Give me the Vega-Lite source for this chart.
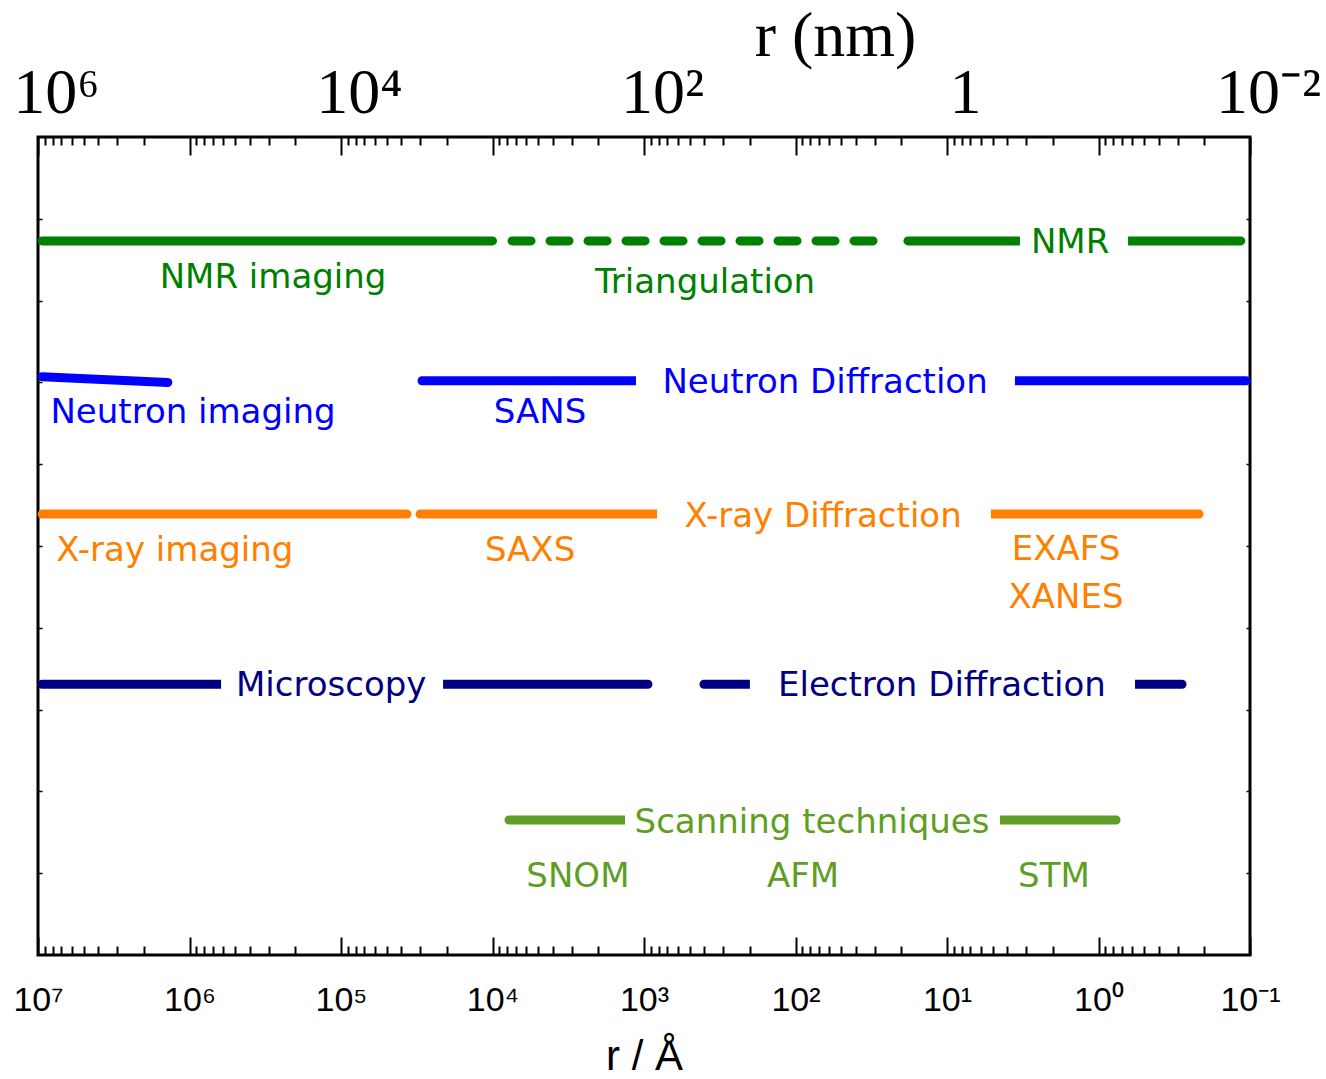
{
  "$schema": "https://vega.github.io/schema/vega-lite/v6.json",
  "autosize": {"type": "none"},
  "padding": {"left": 38, "top": 137, "right": 76, "bottom": 124},
  "width": 1212,
  "height": 818,
  "background": "white",
  "config": {"view": {"stroke": "black", "strokeWidth": 3}},
  "datasets": {
    "segs": [
      {"x1": 9400000, "x2": 10000, "y1": 8.73, "y2": 8.73, "color": "#008000"},
      {"x1": 18.1, "x2": 0.115, "y1": 8.73, "y2": 8.73, "color": "#008000"},
      {"x1": 9400000, "x2": 1390000, "y1": 7.07, "y2": 7.0, "color": "#0000FF"},
      {"x1": 29200, "x2": 0.106, "y1": 7.02, "y2": 7.02, "color": "#0000FF"},
      {"x1": 9400000, "x2": 36650, "y1": 5.39, "y2": 5.39, "color": "#FF8000"},
      {"x1": 30100, "x2": 0.217, "y1": 5.39, "y2": 5.39, "color": "#FF8000"},
      {"x1": 9400000, "x2": 942, "y1": 3.31, "y2": 3.31, "color": "#000080"},
      {"x1": 402, "x2": 0.281, "y1": 3.31, "y2": 3.31, "color": "#000080"},
      {"x1": 7780, "x2": 0.766, "y1": 1.65, "y2": 1.65, "color": "#5E9E24"}
    ],
    "dashed": [
      {"x1": 7430, "x2": 24.2, "y1": 8.73, "y2": 8.73, "color": "#008000"}
    ],
    "gaps": [
      {"x1": 3.30, "x2": 0.638, "y": 8.73},
      {"x1": 1130, "x2": 3.56, "y": 7.02},
      {"x1": 820, "x2": 5.13, "y": 5.39},
      {"x1": 619000, "x2": 21200, "y": 3.31},
      {"x1": 200, "x2": 0.574, "y": 3.31},
      {"x1": 1334, "x2": 4.47, "y": 1.65}
    ],
    "labels": [
      {"label": "NMR imaging", "x": 281000, "y": 8.28, "color": "#008000"},
      {"label": "Triangulation", "x": 395, "y": 8.22, "color": "#008000"},
      {"label": "NMR", "x": 1.54, "y": 8.70, "color": "#008000"},
      {"label": "Neutron imaging", "x": 948000, "y": 6.63, "color": "#0000FF"},
      {"label": "SANS", "x": 4855, "y": 6.63, "color": "#0000FF"},
      {"label": "Neutron Diffraction", "x": 63.8, "y": 6.99, "color": "#0000FF"},
      {"label": "X-ray imaging", "x": 1250000, "y": 4.94, "color": "#FF8000"},
      {"label": "SAXS", "x": 5650, "y": 4.94, "color": "#FF8000"},
      {"label": "X-ray Diffraction", "x": 65.8, "y": 5.35, "color": "#FF8000"},
      {"label": "EXAFS", "x": 1.64, "y": 4.95, "color": "#FF8000"},
      {"label": "XANES", "x": 1.64, "y": 4.36, "color": "#FF8000"},
      {"label": "Microscopy", "x": 116000, "y": 3.29, "color": "#000080"},
      {"label": "Electron Diffraction", "x": 10.8, "y": 3.29, "color": "#000080"},
      {"label": "Scanning techniques", "x": 77.8, "y": 1.61, "color": "#5E9E24"},
      {"label": "SNOM", "x": 2730, "y": 0.95, "color": "#5E9E24"},
      {"label": "AFM", "x": 89.2, "y": 0.95, "color": "#5E9E24"},
      {"label": "STM", "x": 1.97, "y": 0.95, "color": "#5E9E24"}
    ]
  },
  "resolve": {"axis": {"x": "independent", "y": "independent"}},
  "layer": [
    {
      "data": {"name": "segs"},
      "mark": {"type": "rule", "strokeWidth": 9, "strokeCap": "round"},
      "encoding": {
        "x": {"field": "x1", "type": "quantitative",
          "scale": {"type": "log", "domain": [0.1, 10000000], "reverse": true, "nice": false, "zero": false},
          "axis": {"orient": "bottom", "values": [10000000, 1000000, 100000, 10000, 1000, 100, 10, 1, 0.1],
            "tickSize": -18, "tickWidth": 2, "tickColor": "black", "domain": false, "grid": false,
            "labelFont": "Liberation Sans", "labelFontSize": 34, "labelColor": "black", "labelPadding": 73,
            "labelBaseline": "alphabetic", "labelFlush": false, "labelOverlap": false, "labelBound": false,
            "labelExpr": "datum.value >= 5e6 ? '10⁷' : datum.value >= 5e5 ? '10⁶' : datum.value >= 5e4 ? '10⁵' : datum.value >= 5e3 ? '10⁴' : datum.value >= 500 ? '10³' : datum.value >= 50 ? '10²' : datum.value >= 5 ? '10¹' : datum.value >= 0.5 ? '10⁰' : '10⁻¹'",
            "title": "r / Å", "titleFont": "Liberation Sans", "titleFontSize": 42, "titleFontWeight": "normal",
            "titleColor": "black", "titleBaseline": "alphabetic", "titleY": 114, "titleX": 606, "titleAlign": "center", "titleAnchor": null}},
        "x2": {"field": "x2"},
        "y": {"field": "y1", "type": "quantitative", "scale": {"domain": [0, 10], "nice": false, "zero": true},
          "axis": {"orient": "left", "values": [1, 2, 3, 4, 5, 6, 7, 8, 9], "tickSize": -4, "tickWidth": 1.5,
            "tickColor": "black", "labels": false, "domain": false, "grid": false, "title": null}},
        "y2": {"field": "y2"},
        "color": {"field": "color", "type": "nominal", "scale": null}
      }
    },
    {
      "data": {"name": "dashed"},
      "mark": {"type": "rule", "strokeWidth": 9, "strokeCap": "round", "strokeDash": [19, 19]},
      "encoding": {
        "x": {"field": "x1", "type": "quantitative",
          "axis": {"orient": "bottom", "values": [9000000,8000000,7000000,6000000,5000000,4000000,3000000,2000000,900000,800000,700000,600000,500000,400000,300000,200000,90000,80000,70000,60000,50000,40000,30000,20000,9000,8000,7000,6000,5000,4000,3000,2000,900,800,700,600,500,400,300,200,90,80,70,60,50,40,30,20,9,8,7,6,5,4,3,2,0.9,0.8,0.7,0.6,0.5,0.4,0.3,0.2],
            "tickSize": -9, "tickWidth": 2, "tickColor": "black", "domain": false, "grid": false, "labels": false, "title": null}},
        "x2": {"field": "x2"},
        "y": {"field": "y1", "type": "quantitative",
          "axis": {"orient": "right", "values": [1, 2, 3, 4, 5, 6, 7, 8, 9], "tickSize": -4, "tickWidth": 1.5,
            "tickColor": "black", "labels": false, "domain": false, "grid": false, "title": null}},
        "y2": {"field": "y2"},
        "color": {"field": "color", "type": "nominal", "scale": null}
      }
    },
    {
      "data": {"name": "gaps"},
      "transform": [{"calculate": "datum.y - 0.1", "as": "ylo"}, {"calculate": "datum.y + 0.1", "as": "yhi"}],
      "mark": {"type": "rect", "fill": "white"},
      "encoding": {
        "x": {"field": "x1", "type": "quantitative",
          "axis": {"orient": "top", "values": [10000000, 1000000, 100000, 10000, 1000, 100, 10, 1, 0.1],
            "tickSize": -18, "tickWidth": 2, "tickColor": "black", "domain": false, "grid": false,
            "labelFont": "Liberation Serif", "labelFontSize": 64, "labelColor": "black", "labelPadding": 43,
            "labelBaseline": "alphabetic", "labelOffset": 18, "labelFlush": false, "labelOverlap": false, "labelBound": false,
            "labelExpr": "datum.value >= 5e6 ? '10⁶' : (datum.value >= 5e4 && datum.value < 5e5) ? '10⁴' : (datum.value >= 500 && datum.value < 5000) ? '10²' : (datum.value >= 5 && datum.value < 50) ? '1' : datum.value < 0.5 ? '10⁻²' : ''",
            "title": "r (nm)", "titleFont": "Liberation Serif", "titleFontSize": 64, "titleFontWeight": "normal",
            "titleColor": "black", "titleBaseline": "alphabetic", "titleY": -82, "titleX": 797, "titleAlign": "center", "titleAnchor": null}},
        "x2": {"field": "x2"},
        "y": {"field": "ylo", "type": "quantitative", "axis": null},
        "y2": {"field": "yhi"}
      }
    },
    {
      "data": {"name": "labels"},
      "mark": {"type": "text", "font": "DejaVu Sans", "fontSize": 34, "align": "center", "baseline": "middle"},
      "encoding": {
        "x": {"field": "x", "type": "quantitative",
          "axis": {"orient": "top", "values": [9000000,8000000,7000000,6000000,5000000,4000000,3000000,2000000,900000,800000,700000,600000,500000,400000,300000,200000,90000,80000,70000,60000,50000,40000,30000,20000,9000,8000,7000,6000,5000,4000,3000,2000,900,800,700,600,500,400,300,200,90,80,70,60,50,40,30,20,9,8,7,6,5,4,3,2,0.9,0.8,0.7,0.6,0.5,0.4,0.3,0.2],
            "tickSize": -8, "tickWidth": 2, "tickColor": "black", "domain": false, "grid": false, "labels": false, "title": null}},
        "y": {"field": "y", "type": "quantitative", "axis": null},
        "text": {"field": "label"},
        "color": {"field": "color", "type": "nominal", "scale": null}
      }
    }
  ]
}
